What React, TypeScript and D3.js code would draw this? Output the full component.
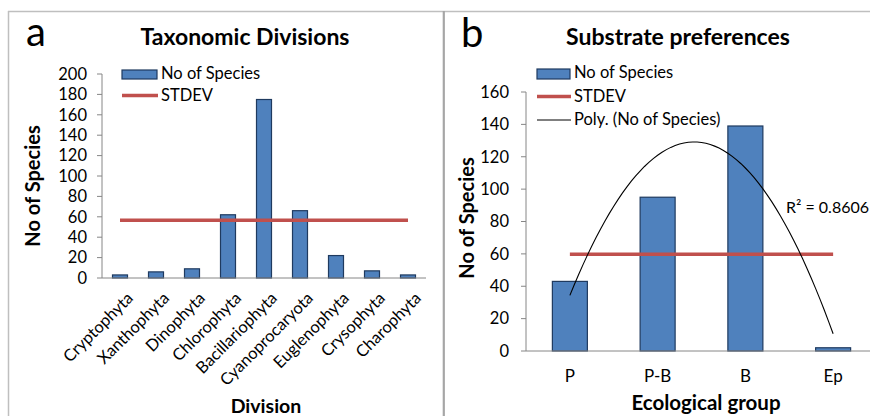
import React from 'react';
import * as d3 from 'd3';

const divisions = ['Cryptophyta', 'Xanthophyta', 'Dinophyta', 'Chlorophyta', 'Bacillariophyta', 'Cyanoprocaryota', 'Euglenophyta', 'Crysophyta', 'Charophyta'];
const divisionCounts = [3, 6, 9, 62, 175, 66, 22, 7, 3];
const ticksA = [0, 20, 40, 60, 80, 100, 120, 140, 160, 180, 200];

const groups = ['P', 'P-B', 'B', 'Ep'];
const groupCounts = [43, 95, 139, 2];
const ticksB = [0, 20, 40, 60, 80, 100, 120, 140, 160];

const FONT = 'Lato, "Open Sans", sans-serif';
const BAR = '#4f81bd';
const BAR_STROKE = '#1f3a5f';
const RED = '#c0504d';
const AXIS = '#868686';

function quadFit(ys: number[]) {
  const xs = ys.map((_, i) => i + 1);
  const n = xs.length;
  let s1 = 0, s2 = 0, s3 = 0, s4 = 0, t0 = 0, t1 = 0, t2 = 0;
  xs.forEach((x, i) => {
    const y = ys[i];
    s1 += x; s2 += x * x; s3 += x ** 3; s4 += x ** 4;
    t0 += y; t1 += x * y; t2 += x * x * y;
  });
  const M = [[n, s1, s2, t0], [s1, s2, s3, t1], [s2, s3, s4, t2]];
  for (let i = 0; i < 3; i++) {
    for (let k = i + 1; k < 3; k++) {
      const f = M[k][i] / M[i][i];
      for (let j = i; j < 4; j++) M[k][j] -= f * M[i][j];
    }
  }
  const r = [0, 0, 0];
  for (let i = 2; i >= 0; i--) {
    let s = M[i][3];
    for (let j = i + 1; j < 3; j++) s -= M[i][j] * r[j];
    r[i] = s / M[i][i];
  }
  const f = (x: number) => r[0] + r[1] * x + r[2] * x * x;
  const mean = d3.mean(ys) as number;
  const ssTot = d3.sum(ys, (y) => (y - mean) ** 2);
  const ssRes = d3.sum(ys, (y, i) => (y - f(i + 1)) ** 2);
  return { f, r2: 1 - ssRes / ssTot };
}

function PanelA() {
  const band = d3.scaleBand<string>().domain(divisions).range([102, 426]);
  const y = d3.scaleLinear().domain([0, 200]).range([278, 74]);
  const sd = d3.deviation(divisionCounts) as number;
  const cx = (d: string) => (band(d) as number) + band.bandwidth() / 2;
  return (
    <g fontFamily={FONT}>
      <text x={26} y={46} fontSize={40} fill="#000">a</text>
      <text x={245} y={45} fontSize={23} fontWeight="bold" textAnchor="middle">Taxonomic Divisions</text>
      <rect x={122} y={70} width={35} height={9} fill={BAR} stroke={BAR_STROKE} strokeWidth={1.2} />
      <text x={161} y={79} fontSize={16.5}>No of Species</text>
      <line x1={122} x2={158} y1={95.5} y2={95.5} stroke={RED} strokeWidth={3.5} />
      <text x={161} y={101} fontSize={16.5}>STDEV</text>
      <line x1={102} x2={102} y1={74} y2={278} stroke={AXIS} />
      {ticksA.map((t) => (
        <g key={t}>
          <line x1={97} x2={102} y1={y(t)} y2={y(t)} stroke={AXIS} />
          <text x={87} y={y(t)} dy="0.35em" fontSize={16.5} textAnchor="end">{t}</text>
        </g>
      ))}
      {divisions.map((d, i) => (
        <rect key={d} x={cx(d) - 7.5} width={15} y={y(divisionCounts[i])} height={y(0) - y(divisionCounts[i])}
          fill={BAR} stroke={BAR_STROKE} strokeWidth={1.2} />
      ))}
      <line x1={102} x2={426} y1={278} y2={278} stroke={AXIS} />
      <line x1={cx(divisions[0])} x2={cx(divisions[divisions.length - 1])} y1={y(sd)} y2={y(sd)} stroke={RED} strokeWidth={3.5} />
      {divisions.map((d) => (
        <text key={d} transform={`translate(${cx(d) + 6},${291}) rotate(-45)`} fontSize={16.5} textAnchor="end" dy="0.7em">{d}</text>
      ))}
      <text x={266} y={413} fontSize={19.5} fontWeight="bold" textAnchor="middle">Division</text>
      <text transform={`translate(40,186) rotate(-90)`} fontSize={20} fontWeight="bold" textAnchor="middle">No of Species</text>
    </g>
  );
}

function PanelB() {
  const band = d3.scaleBand<string>().domain(groups).range([526, 877]);
  const y = d3.scaleLinear().domain([0, 160]).range([351, 92]);
  const sd = d3.deviation(groupCounts) as number;
  const cx = (d: string) => (band(d) as number) + band.bandwidth() / 2;
  const { f, r2 } = quadFit(groupCounts);
  const xc = d3.scaleLinear().domain([1, groups.length]).range([cx(groups[0]), cx(groups[groups.length - 1])]);
  const pts = d3.range(1, groups.length + 0.001, 0.05).map((v) => [xc(v), y(f(v))] as [number, number]);
  const line = d3.line()(pts) as string;
  return (
    <g fontFamily={FONT}>
      <text x={461} y={47} fontSize={40} fill="#000">b</text>
      <text x={678} y={45} fontSize={23} fontWeight="bold" textAnchor="middle">Substrate preferences</text>
      <rect x={537} y={69} width={33} height={10} fill={BAR} stroke={BAR_STROKE} strokeWidth={1.2} />
      <text x={574} y={78} fontSize={16.5}>No of Species</text>
      <line x1={537} x2={571} y1={96.5} y2={96.5} stroke={RED} strokeWidth={3.5} />
      <text x={574} y={102} fontSize={16.5}>STDEV</text>
      <line x1={537} x2={571} y1={120} y2={120} stroke="#000" strokeWidth={1} />
      <text x={574} y={125} fontSize={16.5}>Poly. (No of Species)</text>
      <line x1={526} x2={526} y1={92} y2={351} stroke={AXIS} />
      {ticksB.map((t) => (
        <g key={t}>
          <line x1={521} x2={526} y1={y(t)} y2={y(t)} stroke={AXIS} />
          <text x={509} y={y(t)} dy="0.35em" fontSize={16.5} textAnchor="end">{t}</text>
        </g>
      ))}
      {groups.map((d, i) => (
        <rect key={d} x={cx(d) - 17.5} width={35} y={y(groupCounts[i])} height={y(0) - y(groupCounts[i])}
          fill={BAR} stroke={BAR_STROKE} strokeWidth={1.2} />
      ))}
      <line x1={526} x2={877} y1={351} y2={351} stroke={AXIS} />
      <line x1={cx(groups[0])} x2={cx(groups[groups.length - 1])} y1={y(sd)} y2={y(sd)} stroke={RED} strokeWidth={3.5} />
      <path d={line} fill="none" stroke="#000" strokeWidth={1.1} />
      <text x={786} y={213} fontSize={16}>R² = {r2.toFixed(4)}</text>
      {groups.map((d) => (
        <text key={d} x={cx(d)} y={382} fontSize={17} textAnchor="middle">{d}</text>
      ))}
      <text x={706} y={410} fontSize={20.5} fontWeight="bold" textAnchor="middle">Ecological group</text>
      <text transform={`translate(474,218) rotate(-90)`} fontSize={20} fontWeight="bold" textAnchor="middle">No of Species</text>
    </g>
  );
}

export default function App() {
  return (
    <svg width={870} height={416} style={{ position: 'absolute', left: 0, top: 0, background: '#fff' }}>
      <rect x={0} y={0} width={870} height={416} fill="#fff" />
      <line x1={8} x2={870} y1={11.5} y2={11.5} stroke="#bfbfbf" strokeWidth={1.5} />
      <line x1={8.5} x2={8.5} y1={11} y2={416} stroke="#bfbfbf" strokeWidth={1.5} />
      <line x1={443.8} x2={443.8} y1={11} y2={416} stroke="#a6a6a6" strokeWidth={2.2} />
      <PanelA />
      <PanelB />
    </svg>
  );
}
